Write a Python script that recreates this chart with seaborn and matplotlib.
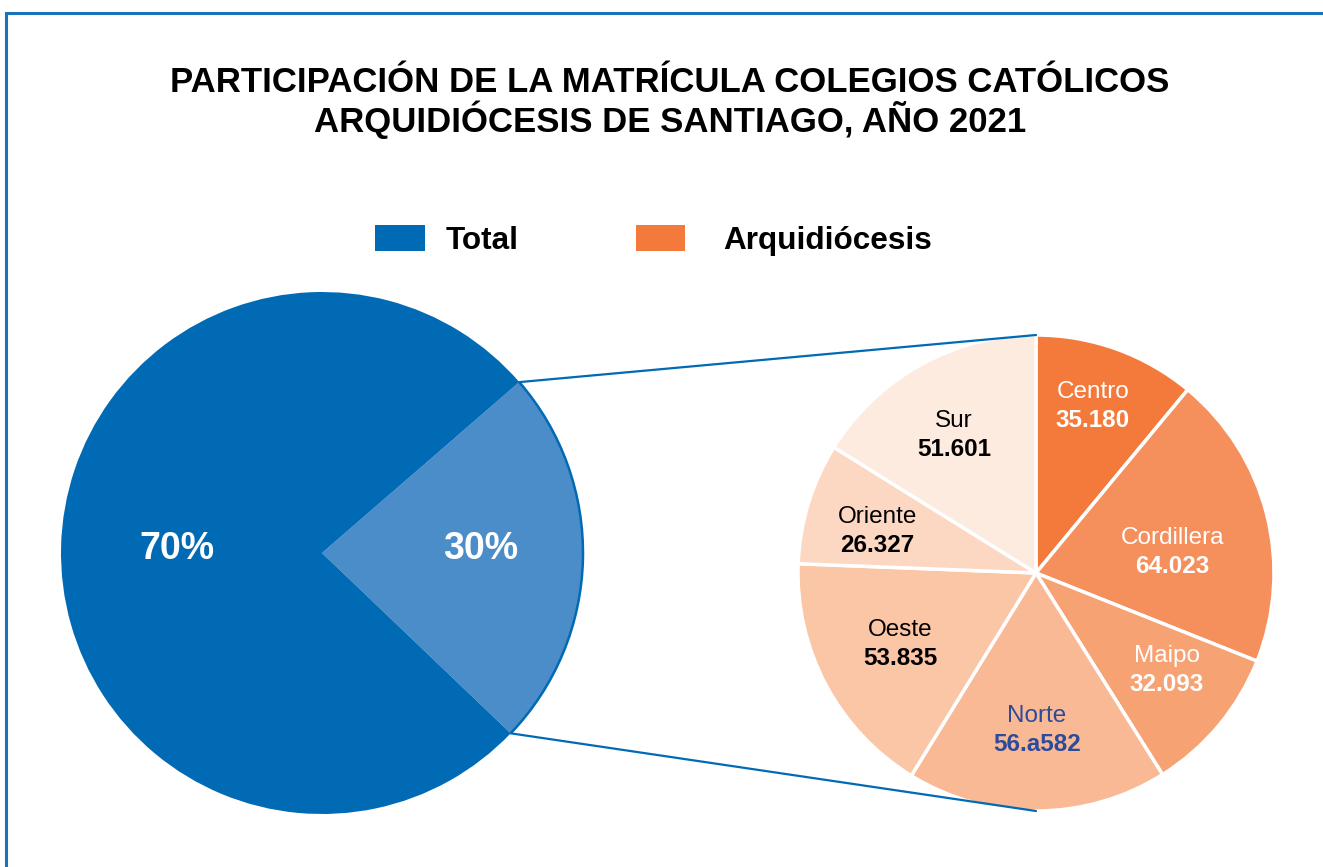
import matplotlib
matplotlib.use("Agg")
import matplotlib.pyplot as plt
import seaborn as sns
import numpy as np
from matplotlib.patches import Rectangle, Arc

sns.set_theme(style="white")
plt.rcParams['font.family'] = ['Liberation Sans', 'DejaVu Sans']

# ---------------- data ----------------
title_lines = ["PARTICIPACIÓN DE LA MATRÍCULA COLEGIOS CATÓLICOS",
               "ARQUIDIÓCESIS DE SANTIAGO, AÑO 2021"]
legend_labels = ["Total", "Arquidiócesis"]
total_labels = ["30%", "70%"]
total_shares = [23.5, 76.5]          # wedge sizes as drawn in the picture
zone_names = ["Centro", "Cordillera", "Maipo", "Norte", "Oeste", "Oriente", "Sur"]
zone_values = [35180, 64023, 32093, 56582, 53835, 26327, 51601]
zone_value_labels = ["35.180", "64.023", "32.093", "56.a582", "53.835", "26.327", "51.601"]

# ---------------- style ----------------
W, H = 1323, 867
blue_dark = "#006AB5"
blue_light = "#4A8DC8"
oranges = ["#F37A3A", "#F58F5C", "#F7A273", "#FAB995", "#FBC6A6", "#FCD8C3", "#FDEBE0"]
text_cols = ["white", "white", "white", "#2E4A9A", "black", "black", "black"]
label_dist = [0.75, 0.58, 0.68, 0.65, 0.64, 0.69, 0.68]
label_dang = [1.3, -4.8, 3.8, 0.0, -1.0, 1.6, 1.3]

fig = plt.figure(figsize=(W / 100, H / 100), dpi=100)
ax = fig.add_axes([0, 0, 1, 1])

def Y(y):
    return H - y

# left pie
lc = (322, Y(553)); lr = 261
wl, _ = ax.pie(total_shares, colors=[blue_light, blue_dark], startangle=-43.7,
               counterclock=True, center=lc, radius=lr,
               wedgeprops=dict(linewidth=0))
w30 = wl[0]
ax.add_patch(Arc(lc, 2 * lr, 2 * lr, theta1=w30.theta1, theta2=w30.theta2,
                 color=blue_dark, lw=1.8, zorder=3))
tdist = [0.61, 0.556]
tdang = [2.7, -0.2]
for w, lab, d, da in zip(wl, total_labels, tdist, tdang):
    a = np.deg2rad((w.theta1 + w.theta2) / 2 + da)
    ax.text(lc[0] + d * lr * np.cos(a), lc[1] + d * lr * np.sin(a), lab,
            ha="center", va="center", color="white", fontsize=27, fontweight="bold")

# right pie
rc = (1036, Y(573)); rr = 238
wr, _ = ax.pie(zone_values, colors=oranges, startangle=90, counterclock=False,
               center=rc, radius=rr,
               wedgeprops=dict(edgecolor="white", linewidth=2.5))
for w, name, val, col, d, da in zip(wr, zone_names, zone_value_labels, text_cols,
                                    label_dist, label_dang):
    a = np.deg2rad((w.theta1 + w.theta2) / 2 + da)
    x = rc[0] + d * rr * np.cos(a)
    y = rc[1] + d * rr * np.sin(a)
    ax.text(x, y + 6, name, ha="center", va="baseline", color=col, fontsize=17.5)
    ax.text(x, y - 23, val, ha="center", va="baseline", color=col, fontsize=17.5,
            fontweight="bold")

# connecting lines
for th, yend in [(w30.theta2, rc[1] + rr), (w30.theta1, rc[1] - rr)]:
    a = np.deg2rad(th)
    ax.plot([lc[0] + lr * np.cos(a), rc[0]], [lc[1] + lr * np.sin(a), yend],
            color=blue_dark, lw=1.6, zorder=1)

# title
ax.text(670, Y(92), title_lines[0], ha="center", va="baseline",
        fontsize=25, fontweight="bold", color="black")
ax.text(670, Y(132), title_lines[1], ha="center", va="baseline",
        fontsize=25, fontweight="bold", color="black")

# legend
ax.add_patch(Rectangle((375, Y(251)), 50, 26, color=blue_dark, lw=0))
ax.text(446, Y(249), legend_labels[0], ha="left", va="baseline",
        fontsize=22.7, fontweight="bold", color="black")
ax.add_patch(Rectangle((636, Y(251)), 49, 26, color=oranges[0], lw=0))
ax.text(723, Y(249), legend_labels[1], ha="left", va="baseline",
        fontsize=22.7, fontweight="bold", color="black")

# frame (top and left edges visible)
ax.add_patch(Rectangle((6, Y(H + 20)), W + 20, H + 20 - 13, fill=False,
                       edgecolor="#1B72B9", lw=2.2, zorder=0))

ax.set_xlim(0, W)
ax.set_ylim(0, H)
ax.set_aspect("equal")
ax.axis("off")
fig.savefig("out.png", dpi=100)
